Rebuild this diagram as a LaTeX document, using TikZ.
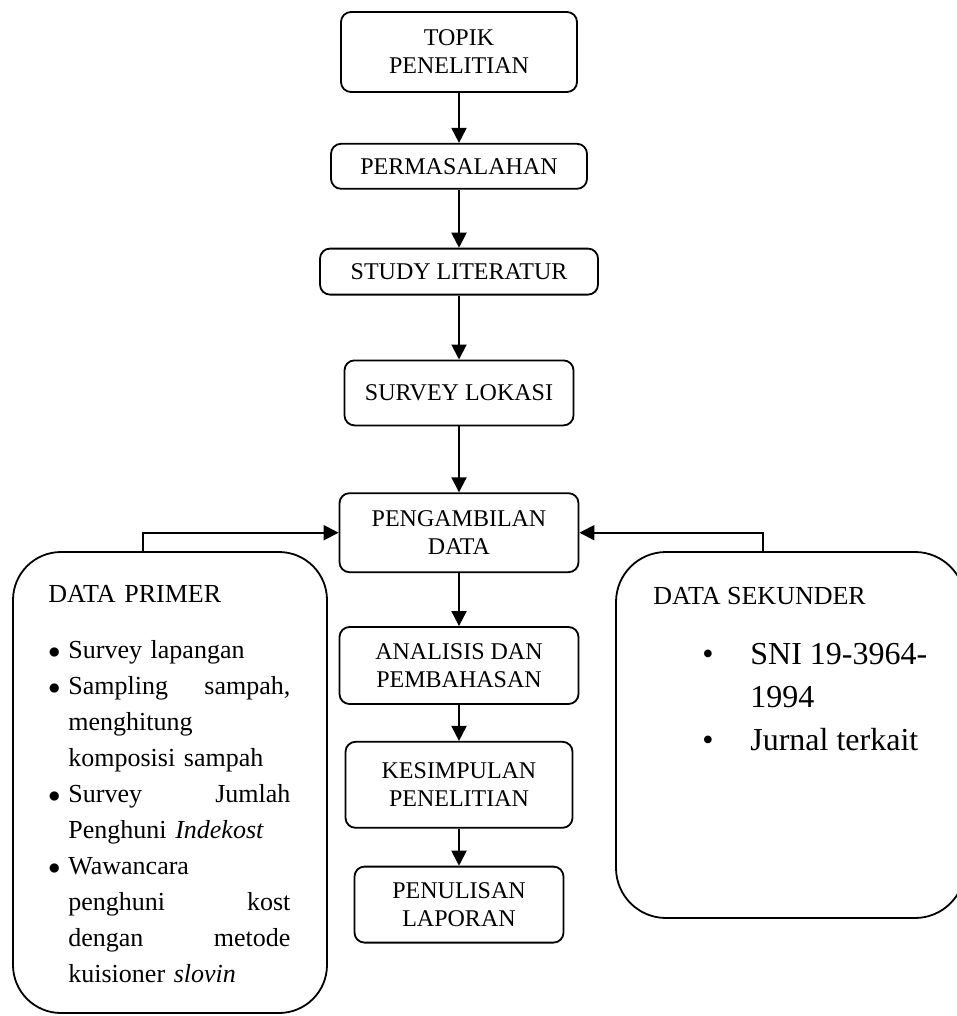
\documentclass[tikz,border=0pt]{standalone}
\usepackage{fontspec}
\setmainfont{Liberation Serif}
\usepackage{tikz}
\usetikzlibrary{positioning, arrows.meta}
\newcommand{\butir}{\makebox[10pt][l]{$\bullet$}}
\newcommand{\lanjut}{\makebox[10pt]{}}

\begin{document}
\begin{tikzpicture}[
    x=0.5pt, y=-0.5pt,
    stepbox/.style={rectangle, draw=black, line width=0.9pt, rounded corners=5pt, align=center, inner sep=2pt, font=\fontsize{12}{14}\selectfont},
    databox/.style={rectangle, draw=black, line width=0.9pt, rounded corners=24pt},
    isi/.style={inner sep=0pt, anchor=north west, align=left},
    arrow/.style={-{Triangle[length=7.5pt, width=7.5pt]}, line width=1pt}
]
\useasboundingbox (0,0) rectangle (957,1016);

% Nodes
\node[stepbox, minimum width=118pt, minimum height=40pt] (topik) at (459,52) {TOPIK\\PENELITIAN};
\node[stepbox, minimum width=128pt, minimum height=22.5pt, below=25pt of topik] (masalah) {PERMASALAHAN};
\node[stepbox, minimum width=139pt, minimum height=23pt, below=29pt of masalah] (studi) {STUDY LITERATUR};
\node[stepbox, minimum width=114.5pt, minimum height=32.5pt, below=32pt of studi] (survey) {SURVEY LOKASI};
\node[stepbox, minimum width=119.5pt, minimum height=39.5pt, below=33pt of survey] (ambil) {PENGAMBILAN\\DATA};
\node[stepbox, minimum width=119.5pt, minimum height=38.5pt, below=26.5pt of ambil] (analisis) {ANALISIS DAN\\PEMBAHASAN};
\node[stepbox, minimum width=113.5pt, minimum height=43pt, below=18pt of analisis] (simpul) {KESIMPULAN\\PENELITIAN};
\node[stepbox, minimum width=104.5pt, minimum height=38pt, below=18.5pt of simpul] (tulis) {PENULISAN\\LAPORAN};

% Data boxes
\node[databox, minimum width=157pt, minimum height=230.5pt] (primer) at (170,782.5) {};
\node[databox, rounded corners=25pt, minimum width=174.5pt, minimum height=183pt] (sekunder) at (790.5,735) {};

\node[isi, text width=121pt, font=\fontsize{13}{18}\selectfont] (primerisi) at (48,585) {DATA PRIMER\\[10pt]
\butir Survey lapangan\\
\butir Sampling\hfill sampah,\\
\lanjut menghitung\\
\lanjut komposisi sampah\\
\butir Survey\hfill Jumlah\\
\lanjut Penghuni \textit{Indekost}\\
\butir Wawancara\\
\lanjut penghuni\hfill kost\\
\lanjut dengan\hfill metode\\
\lanjut kuisioner \textit{slovin}};

\node[isi, font=\fontsize{13}{16}\selectfont] (sekjudul) at (653,587) {DATA SEKUNDER};
\node[isi, font=\fontsize{16}{21.5}\selectfont] (sekisi) at (702,643) {\makebox[24pt][l]{\textbullet}SNI 19-3964-\\
\makebox[24pt]{}1994\\
\makebox[24pt][l]{\textbullet}Jurnal terkait};

% Arrows
\draw[arrow] (topik) -- (masalah);
\draw[arrow] (masalah) -- (studi);
\draw[arrow] (studi) -- (survey);
\draw[arrow] (survey) -- (ambil);
\draw[arrow] (ambil) -- (analisis);
\draw[arrow] (analisis) -- (simpul);
\draw[arrow] (simpul) -- (tulis);

\coordinate (kiri) at (143,0);
\coordinate (kanan) at (763,0);
\draw[arrow] (primer.north -| kiri) |- (ambil.west);
\draw[arrow] (sekunder.north -| kanan) |- (ambil.east);
\end{tikzpicture}
\end{document}
